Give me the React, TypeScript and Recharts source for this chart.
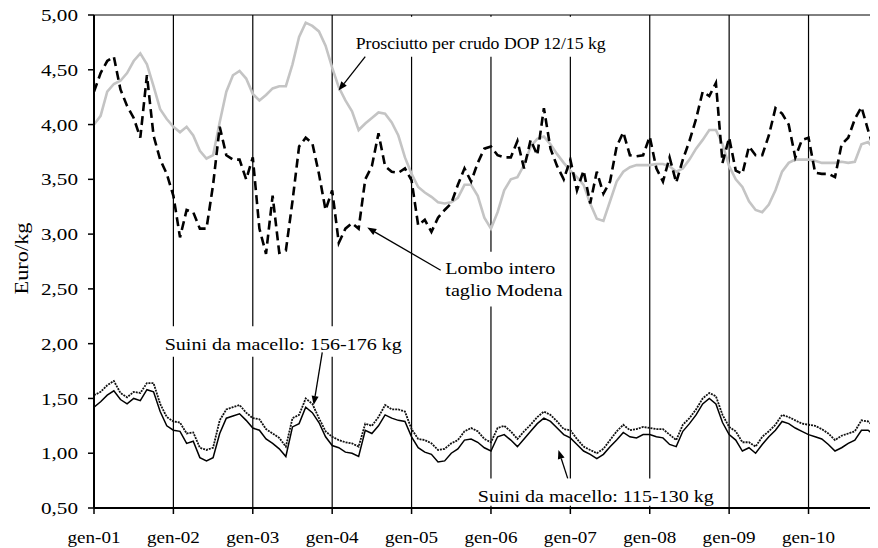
import React from 'react';
import { LineChart, Line, XAxis, YAxis, CartesianGrid, ReferenceArea, ReferenceLine } from 'recharts';

const FONT = '"Liberation Serif", "Times New Roman", Times, serif';

// Year tick labels (January of each year), x = month index from gen-01
const yearLabels = ['gen-01', 'gen-02', 'gen-03', 'gen-04', 'gen-05', 'gen-06', 'gen-07', 'gen-08', 'gen-09', 'gen-10'];
const yearTicks = [0, 12, 24, 36, 48, 60, 72, 84, 96, 108];
const yTicks = [0.5, 1, 1.5, 2, 2.5, 3, 3.5, 4, 4.5, 5];

// Prosciutto per crudo DOP 12/15 kg (monthly, gen-01 .. nov-10)
const prosciutto = [
  4.00, 4.08, 4.30, 4.37, 4.40, 4.47, 4.58, 4.65, 4.55, 4.35, 4.14, 4.05,
  3.98, 3.93, 3.98, 3.90, 3.76, 3.69, 3.72, 4.02, 4.30, 4.45, 4.49, 4.42,
  4.28, 4.22, 4.27, 4.33, 4.35, 4.35, 4.55, 4.80, 4.93, 4.90, 4.85, 4.72,
  4.52, 4.34, 4.22, 4.12, 3.95, 4.01, 4.06, 4.11, 4.10, 4.02, 3.90, 3.70,
  3.55, 3.43, 3.38, 3.34, 3.29, 3.28, 3.29, 3.33, 3.45, 3.45, 3.35, 3.15,
  3.05, 3.20, 3.40, 3.50, 3.52, 3.63, 3.80, 3.87, 3.89, 3.82, 3.73, 3.65,
  3.58, 3.52, 3.45, 3.28, 3.14, 3.12, 3.30, 3.48, 3.57, 3.61, 3.63, 3.63,
  3.63, 3.64, 3.64, 3.62, 3.57, 3.60, 3.68, 3.78, 3.86, 3.95, 3.95, 3.82,
  3.62, 3.50, 3.43, 3.30, 3.22, 3.20, 3.27, 3.40, 3.57, 3.65, 3.68, 3.68,
  3.68, 3.67, 3.65, 3.65, 3.65, 3.66, 3.65, 3.66, 3.82, 3.84, 3.77,
];

// Lombo intero taglio Modena
const lombo = [
  4.30, 4.47, 4.58, 4.62, 4.32, 4.17, 4.06, 3.88, 4.45, 3.90, 3.68, 3.55,
  3.35, 2.97, 3.22, 3.20, 3.05, 3.05, 3.45, 3.98, 3.72, 3.68, 3.68, 3.50,
  3.70, 3.05, 2.82, 3.35, 2.83, 2.85, 3.30, 3.80, 3.88, 3.83, 3.55, 3.22,
  3.40, 2.92, 3.05, 3.10, 3.05, 3.50, 3.62, 3.92, 3.62, 3.57, 3.56, 3.60,
  3.49, 3.08, 3.13, 3.02, 3.15, 3.22, 3.28, 3.45, 3.60, 3.48, 3.65, 3.78,
  3.80, 3.72, 3.70, 3.70, 3.85, 3.60, 3.86, 3.72, 4.15, 3.78, 3.62, 3.50,
  3.68, 3.40, 3.58, 3.28, 3.57, 3.37, 3.48, 3.80, 3.93, 3.72, 3.71, 3.72,
  3.89, 3.60, 3.48, 3.70, 3.47, 3.68, 3.85, 4.05, 4.30, 4.26, 4.38, 3.65,
  3.88, 3.58, 3.55, 3.80, 3.72, 3.72, 3.90, 4.15, 4.10, 4.00, 3.70, 3.86,
  3.88, 3.56, 3.55, 3.55, 3.52, 3.82, 3.88, 4.05, 4.16, 3.95, 3.75,
];

// Suini da macello: 156-176 kg
const suini156 = [
  1.53, 1.56, 1.62, 1.66, 1.55, 1.51, 1.56, 1.55, 1.64, 1.64, 1.45, 1.33,
  1.29, 1.28, 1.18, 1.19, 1.05, 1.03, 1.05, 1.30, 1.40, 1.42, 1.44, 1.37,
  1.32, 1.31, 1.22, 1.18, 1.14, 1.06, 1.32, 1.35, 1.50, 1.45, 1.32, 1.20,
  1.15, 1.12, 1.10, 1.09, 1.06, 1.27, 1.25, 1.33, 1.44, 1.40, 1.40, 1.38,
  1.22, 1.13, 1.12, 1.09, 1.03, 1.04, 1.09, 1.12, 1.20, 1.23, 1.20, 1.13,
  1.10, 1.23, 1.25, 1.20, 1.13, 1.20, 1.26, 1.33, 1.38, 1.35, 1.29, 1.22,
  1.21, 1.13, 1.06, 1.03, 1.00, 1.04, 1.12, 1.20, 1.26, 1.21, 1.22, 1.24,
  1.23, 1.22, 1.22, 1.17, 1.12, 1.26, 1.32, 1.40, 1.50, 1.55, 1.52, 1.35,
  1.24, 1.20, 1.10, 1.10, 1.06, 1.15, 1.20, 1.26, 1.35, 1.33, 1.30, 1.27,
  1.26, 1.25, 1.22, 1.18, 1.12, 1.16, 1.18, 1.20, 1.30, 1.29, 1.24,
];

// Suini da macello: 115-130 kg
const suini115 = [
  1.42, 1.47, 1.53, 1.57, 1.49, 1.45, 1.50, 1.48, 1.58, 1.56, 1.38, 1.25,
  1.21, 1.20, 1.09, 1.11, 0.96, 0.93, 0.96, 1.18, 1.32, 1.34, 1.36, 1.30,
  1.23, 1.21, 1.13, 1.09, 1.04, 0.97, 1.24, 1.27, 1.42, 1.37, 1.28, 1.15,
  1.07, 1.05, 1.01, 1.00, 0.97, 1.21, 1.18, 1.25, 1.35, 1.32, 1.30, 1.29,
  1.15, 1.05, 1.01, 0.99, 0.92, 0.93, 1.00, 1.04, 1.12, 1.13, 1.10, 1.05,
  1.02, 1.15, 1.17, 1.12, 1.06, 1.13, 1.20, 1.27, 1.32, 1.29, 1.23, 1.17,
  1.14, 1.08, 1.02, 0.99, 0.95, 0.99, 1.06, 1.12, 1.19, 1.15, 1.14, 1.17,
  1.17, 1.15, 1.14, 1.08, 1.06, 1.20, 1.27, 1.35, 1.45, 1.50, 1.45, 1.28,
  1.17, 1.12, 1.02, 1.05, 1.00, 1.08, 1.15, 1.21, 1.29, 1.27, 1.23, 1.20,
  1.17, 1.15, 1.13, 1.08, 1.02, 1.05, 1.09, 1.12, 1.21, 1.21, 1.16,
];

const data = prosciutto.map((v, i) => ({
  m: i,
  prosciutto: v,
  lombo: lombo[i],
  s156: suini156[i],
  s115: suini115[i],
}));

const fmt = (v: number) => v.toFixed(2).replace('.', ',');

const XTick = (props: any) => {
  const { x, y, payload } = props;
  const idx = yearTicks.indexOf(payload.value);
  return (
    <text x={x} y={y} dy="0.71em" textAnchor="middle" fontFamily={FONT} fontSize={17} fill="#000"
      textLength={53} lengthAdjust="spacingAndGlyphs">
      {yearLabels[idx]}
    </text>
  );
};

const YTick = (props: any) => {
  const { x, y, payload } = props;
  return (
    <text x={x} y={y} dy="0.36em" textAnchor="end" fontFamily={FONT} fontSize={17} fill="#000"
      textLength={37} lengthAdjust="spacingAndGlyphs">
      {fmt(payload.value)}
    </text>
  );
};

const YLabel = (props: any) => {
  const { viewBox } = props;
  const cx = viewBox.x + 22;
  const cy = viewBox.y + viewBox.height / 2 - 3;
  return (
    <text x={cx} y={cy} transform={`rotate(-90 ${cx} ${cy})`} textAnchor="middle" dominantBaseline="central"
      fontFamily={FONT} fontSize={18} fill="#000" textLength={72} lengthAdjust="spacingAndGlyphs">
      Euro/kg
    </text>
  );
};

const BoxLabel = (props: any) => {
  const { viewBox, lines, dy = 0, anchor = 'middle', dx = 0, lens = [], gap = 22 } = props;
  const x = anchor === 'start' ? viewBox.x + dx : viewBox.x + viewBox.width / 2 + dx;
  const cy = viewBox.y + viewBox.height / 2 + dy;
  const n = lines.length;
  return (
    <g>
      {lines.map((t: string, i: number) => (
        <text key={i} x={x} y={cy + (i - (n - 1) / 2) * gap} textAnchor={anchor} dominantBaseline="central"
          fontFamily={FONT} fontSize={17} fill="#000" textLength={lens[i]} lengthAdjust="spacingAndGlyphs">
          {t}
        </text>
      ))}
    </g>
  );
};

const Arrow = (props: any) => {
  const { x1, y1, x2, y2 } = props;
  const ang = Math.atan2(y2 - y1, x2 - x1);
  const L = 9;
  const W = 3.5;
  const bx = x2 - L * Math.cos(ang);
  const by = y2 - L * Math.sin(ang);
  const px = -Math.sin(ang) * W;
  const py = Math.cos(ang) * W;
  return (
    <g>
      <line x1={x1} y1={y1} x2={bx} y2={by} stroke="#000" strokeWidth={1.3} />
      <polygon points={`${x2},${y2} ${bx + px},${by + py} ${bx - px},${by - py}`} fill="#000" />
    </g>
  );
};

export default function App() {
  return (
    <div style={{ margin: '-8px 0 0 -8px', width: 878, height: 548 }}>
      <LineChart width={878} height={548} data={data} margin={{ top: 15, right: 0, bottom: 0, left: 0 }}
        style={{ fontFamily: FONT }}>
        <CartesianGrid horizontal={false} vertical stroke="#000" strokeWidth={1.2} />
        <XAxis dataKey="m" type="number" domain={[0, 118.5]} ticks={yearTicks} interval={0} allowDataOverflow
          height={40} tick={<XTick />} tickSize={6} tickMargin={17}
          axisLine={{ stroke: '#000', strokeWidth: 2 }} tickLine={{ stroke: '#000', strokeWidth: 1.5 }} />
        <YAxis type="number" domain={[0.5, 5]} ticks={yTicks} interval={0} width={94} tick={<YTick />}
          tickSize={6} tickMargin={10} axisLine={{ stroke: '#000', strokeWidth: 2 }}
          tickLine={{ stroke: '#000', strokeWidth: 1.5 }} label={<YLabel />} />
        <ReferenceLine y={5} stroke="#000" strokeWidth={1} />

        <ReferenceArea x1={38.8} x2={78.1} y1={4.62} y2={4.985} fill="#fff" fillOpacity={1} stroke="none"
          label={<BoxLabel lines={['Prosciutto per crudo DOP 12/15 kg']} dy={7} lens={[250]} />} />
        <ReferenceArea x1={52.5} x2={71} y1={2.34} y2={2.84} fill="#fff" fillOpacity={1} stroke="none"
          label={<BoxLabel lines={['Lombo intero', 'taglio Modena']} anchor="start" dx={4} dy={0} lens={[110, 117]} />} />
        <ReferenceArea x1={10.0} x2={47.2} y1={1.88} y2={2.16} fill="#fff" fillOpacity={1} stroke="none"
          label={<BoxLabel lines={['Suini da macello: 156-176 kg']} dy={3.5} lens={[237]} />} />
        <ReferenceArea x1={57.5} x2={94.2} y1={0.52} y2={0.77} fill="#fff" fillOpacity={1} stroke="none"
          label={<BoxLabel lines={['Suini da macello: 115-130 kg']} dy={4} lens={[236]} />} />

        <Line type="linear" dataKey="prosciutto" stroke="#c4c4c4" strokeWidth={2.6} dot={false} isAnimationActive={false} />
        <Line type="linear" dataKey="lombo" stroke="#000" strokeWidth={2.6} strokeDasharray="9 5" dot={false} isAnimationActive={false} />
        <Line type="linear" dataKey="s156" stroke="#111" strokeWidth={1.8} strokeDasharray="2 1" dot={false} isAnimationActive={false} />
        <Line type="linear" dataKey="s115" stroke="#000" strokeWidth={1.5} dot={false} isAnimationActive={false} />

        <ReferenceLine segment={[{ x: 41.0, y: 4.62 }, { x: 36.95, y: 4.31 }]} shape={<Arrow />} ifOverflow="visible" />
        <ReferenceLine segment={[{ x: 52.4, y: 2.67 }, { x: 41.3, y: 3.06 }]} shape={<Arrow />} ifOverflow="visible" />
        <ReferenceLine segment={[{ x: 34.5, y: 1.92 }, { x: 33.2, y: 1.44 }]} shape={<Arrow />} ifOverflow="visible" />
        <ReferenceLine segment={[{ x: 71.6, y: 0.77 }, { x: 70.2, y: 1.03 }]} shape={<Arrow />} ifOverflow="visible" />
      </LineChart>
    </div>
  );
}
